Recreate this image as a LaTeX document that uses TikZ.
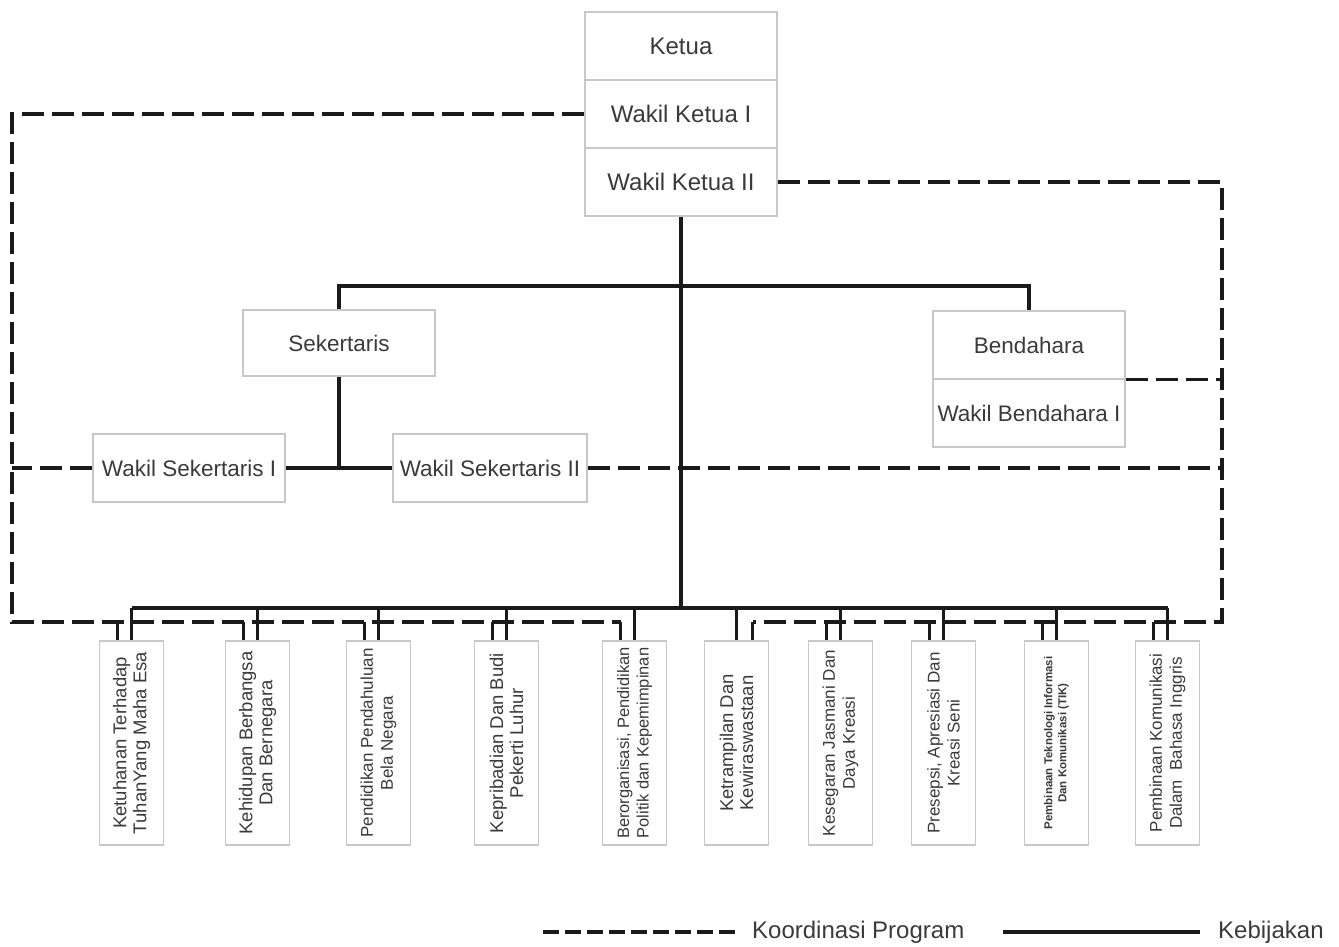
\documentclass[tikz,border=0pt]{standalone}
\usepackage{fontspec}
\setmainfont{Liberation Sans}
\usetikzlibrary{calc}
\definecolor{boxedge}{HTML}{C8C8C8}
\definecolor{labelgray}{HTML}{3A3A3A}
\definecolor{ink}{HTML}{1A1A1A}

\tikzset{
  unit/.style={draw=boxedge, line width=1.2pt, minimum width=192pt, minimum height=68pt,
    inner sep=0pt, text=labelgray, font=\fontsize{22.5}{26}\selectfont},
  topunit/.style={unit, font=\fontsize{24}{28}\selectfont},
  bidang/.style={draw=boxedge, line width=1.2pt, minimum width=64pt, minimum height=204pt, inner sep=0pt},
  bidangtext/.style={rotate=90, align=center, text=labelgray, inner sep=0pt,
    font=\fontsize{18.5}{20}\selectfont},
  policy/.style={draw=ink, line width=3.4pt},
  coord/.style={draw=ink, line width=3.4pt, dash pattern=on 22pt off 8pt},
  legendtext/.style={anchor=west, inner sep=0pt, text=labelgray, font=\fontsize{24}{28}\selectfont},
}

\begin{document}
\begin{tikzpicture}[x=1pt,y=-1pt]
\useasboundingbox (0,0) rectangle (1339,947);

% leadership stack
\node[topunit] (ketua) at (681,46) {Ketua};
\node[topunit] (wk1) at (681,114) {Wakil Ketua I};
\node[topunit] (wk2) at (681,182) {Wakil Ketua II};

% secretary and treasurer
\node[unit, minimum height=66pt] (sek) at (339,343) {Sekertaris};
\node[unit] (bend) at (1029,345) {Bendahara};
\node[unit] (wbend) at (1029,413) {Wakil Bendahara I};
\node[unit] (ws1) at (189,468) {Wakil Sekertaris I};
\node[unit, minimum width=194pt] (ws2) at (490,468) {Wakil Sekertaris II};

% program units
\node[bidang] (b1) at (131.5,743) {};
\node[bidang] (b2) at (257.5,743) {};
\node[bidang] (b3) at (378.5,743) {};
\node[bidang] (b4) at (506.5,743) {};
\node[bidang] (b5) at (634.5,743) {};
\node[bidang] (b6) at (736.5,743) {};
\node[bidang] (b7) at (840.5,743) {};
\node[bidang] (b8) at (943.5,743) {};
\node[bidang] (b9) at (1056.5,743) {};
\node[bidang] (b10) at (1167.5,743) {};

\node[bidangtext] (t1) at (b1.center) {Ketuhanan Terhadap\\TuhanYang Maha Esa};
\node[bidangtext] (t2) at (b2.center) {Kehidupan Berbangsa\\Dan Bernegara};
\node[bidangtext, font=\fontsize{17}{20}\selectfont] (t3) at (b3.center) {Pendidikan Pendahuluan\\Bela Negara};
\node[bidangtext] (t4) at (b4.center) {Kepribadian Dan Budi\\Pekerti Luhur};
\node[bidangtext, font=\fontsize{16.5}{19.5}\selectfont] (t5) at (b5.center) {Berorganisasi, Pendidikan\\Politik dan Kepemimpinan};
\node[bidangtext] (t6) at (b6.center) {Ketrampilan Dan\\Kewiraswastaan};
\node[bidangtext, font=\fontsize{17}{20}\selectfont] (t7) at (b7.center) {Kesegaran Jasmani Dan\\Daya Kreasi};
\node[bidangtext, font=\fontsize{17}{20}\selectfont] (t8) at (b8.center) {Presepsi, Apresiasi Dan\\Kreasi Seni};
\node[bidangtext, font=\bfseries\fontsize{11.5}{14}\selectfont] (t9) at (b9.center) {Pembinaan Teknologi Informasi\\Dan Komunikasi (TIK)};
\node[bidangtext, font=\fontsize{17}{20}\selectfont] (t10) at (b10.center) {Pembinaan Komunikasi\\Dalam\ \ Bahasa Inggris};

% helper coordinates
\coordinate (bus) at (681,608);
\coordinate (split) at (681,286);
\coordinate (cl) at (12,622);
\coordinate (cr) at (1222,622);

% policy lines (solid)
\draw[policy] (wk2.south) -- (bus);
\draw[policy] (sek.north) -- (sek.north |- split) -- (bend.north |- split) -- (bend.north);
\draw[policy] (sek.south) -- (sek.south |- ws1.east);
\draw[policy] (ws1.east) -- (ws2.west);
\draw[policy] (b1.north |- bus) -- (b10.north |- bus);
\foreach \b in {b1,b2,b3,b4,b5,b6,b7,b8,b9,b10}
  \draw[policy] (\b.north |- bus) -- (\b.north);

% coordination lines (dashed)
\coordinate (d5) at ($(b5.north)+(-14,0)$);
\coordinate (d6) at ($(b6.north)+(16,0)$);
\draw[coord] (wk1.west) -| (cl) -- (d5 |- cl);
\draw[coord] (wk2.east) -| (cr) -- (d6 |- cl);
\draw[coord] (bend.south east) -- (bend.south east -| cr);
\draw[coord] (ws1.west) -- (ws1.west -| cl);
\draw[coord] (ws2.east) -- (ws2.east -| cr);
\foreach \b in {b1,b2,b3,b4,b5,b7,b8,b9,b10}
  \draw[coord] ($(\b.north |- cl)+(-14,0)$) -- ($(\b.north)+(-14,0)$);
\draw[coord] (d6 |- cl) -- (d6);

% legend
\coordinate (la) at (543,932);
\coordinate (lb) at (740,932);
\coordinate (lc) at (1003,932);
\coordinate (ld) at (1200,932);
\draw[coord, dash pattern=on 16pt off 6pt] (la) -- (lb);
\node[legendtext] (lk) at (752,932) {Koordinasi Program};
\draw[policy] (lc) -- (ld);
\node[legendtext] (lp) at (1218,932) {Kebijakan};
\end{tikzpicture}
\end{document}
